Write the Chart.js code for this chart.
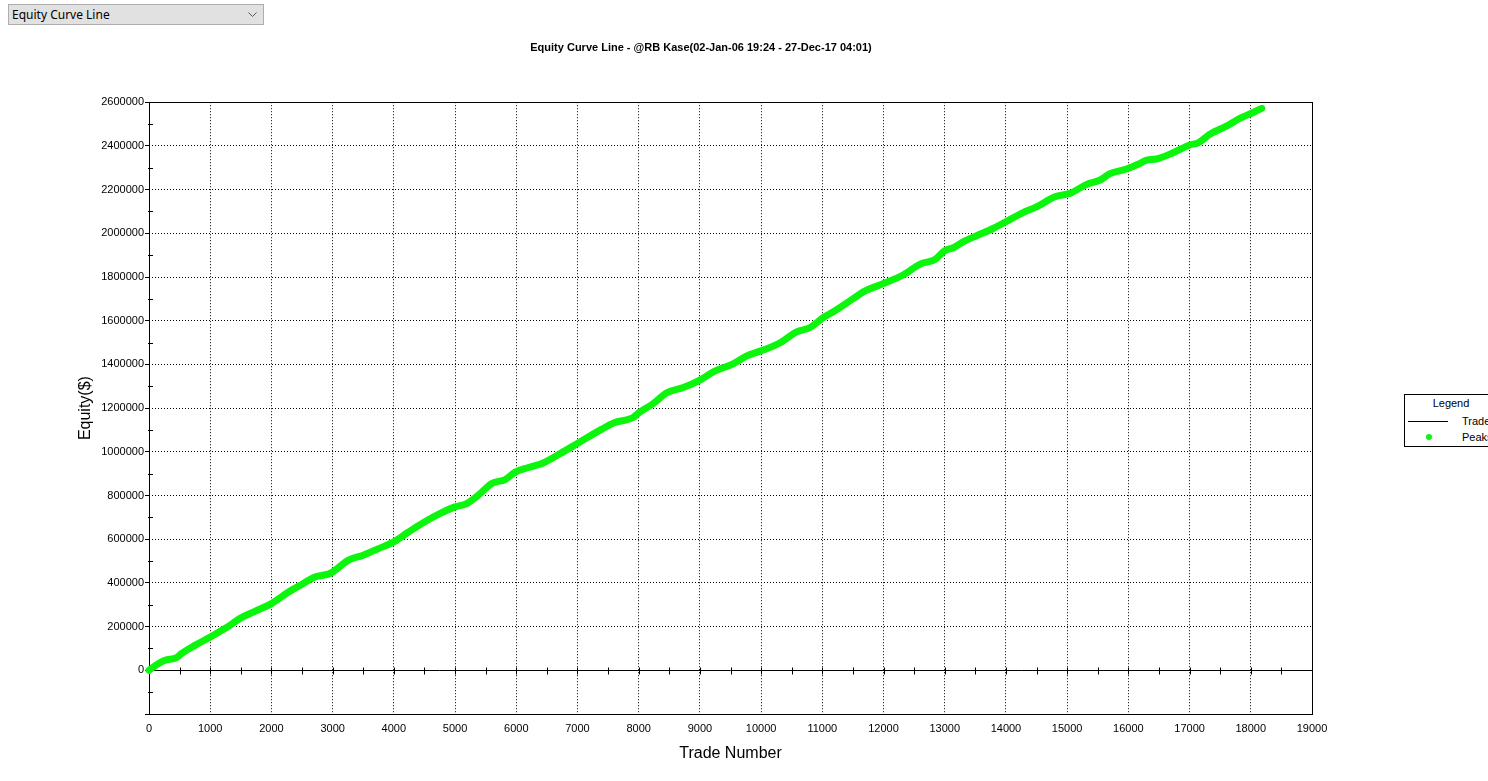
<!DOCTYPE html>
<html>
<head>
<meta charset="utf-8">
<title>Equity Curve Line</title>
<script src="https://cdn.jsdelivr.net/npm/chart.js@4"></script>
<style>
    html, body { margin: 0; padding: 0; background: #fff; overflow: hidden; }
    body { width: 1488px; height: 781px; position: relative; font-family: "Liberation Sans", Arial, sans-serif; }
    #chart { position: absolute; left: 0; top: 0; }
    .picker {
        position: absolute; left: 8px; top: 4px; width: 251px; height: 19px;
        background: #e1e1e1; border: 1px solid #adadad;
        font: 12px "Noto Sans", "Open Sans", sans-serif; color: #000;
        line-height: 19px; padding-left: 3px; box-sizing: content-box;
    }
    .picker svg { position: absolute; right: 6px; top: 7px; }
    .legend {
        position: absolute; left: 1404px; top: 394px; width: 92px; height: 51px;
        border: 1px solid #000; background: #fff; font-size: 11px; color: #000;
    }
    .legend .head { position: absolute; left: 0; width: 92px; top: 2px; text-align: center; }
    .legend .row { position: absolute; left: 0; width: 92px; height: 14px; }
    .legend .row span { position: absolute; left: 57px; top: 0; line-height: 14px; }
</style>
</head>
<body>
<div class="picker">Equity Curve Line
    <svg width="9" height="6" viewBox="0 0 9 6"><polyline points="0.5,0.5 4.5,4.5 8.5,0.5" fill="none" stroke="#555" stroke-width="1"/></svg>
</div>
<canvas id="chart" width="1402" height="781"></canvas>
<div class="legend" id="legend"><div class="head">Legend</div></div>
<script>
// trade number / equity
const trades = [0, 150, 260, 450, 530, 750, 1000, 1240, 1510, 1730, 2000, 2280, 2500, 2710, 2930, 3000,
    3260, 3500, 3750, 4000, 4240, 4500, 4750, 5000, 5190, 5380, 5600, 5820, 5990, 6200, 6450, 6720,
    7000, 7370, 7590, 7910, 8000, 8240, 8460, 8730, 9000, 9220, 9550, 9760, 10000, 10310, 10580, 10800,
    11020, 11180, 11510, 11670, 12000, 12320, 12600, 12840, 13000, 13140, 13300, 13520, 13790, 14000,
    14280, 14500, 14800, 15050, 15320, 15540, 15700, 15970, 16190, 16300, 16460, 16740, 17000, 17140,
    17330, 17610, 17820, 18040, 18180];
const equity = [0, 30000, 46000, 58000, 76000, 114000, 152000, 191000, 241000, 270000, 305000, 358000, 394000, 427000, 440000, 450000,
    504000, 527000, 557000, 588000, 633000, 679000, 717000, 748000, 763000, 801000, 855000, 873000, 908000, 928000, 950000, 992000,
    1038000, 1099000, 1132000, 1157000, 1178000, 1221000, 1270000, 1294000, 1328000, 1366000, 1404000, 1438000, 1462000, 1499000, 1549000, 1569000,
    1615000, 1641000, 1702000, 1732000, 1770000, 1809000, 1859000, 1880000, 1920000, 1934000, 1961000, 1989000, 2022000, 2053000,
    2095000, 2121000, 2167000, 2183000, 2224000, 2244000, 2273000, 2294000, 2320000, 2335000, 2340000, 2370000, 2404000, 2414000,
    2453000, 2492000, 2526000, 2553000, 2572000];

const seriesNames = ["Trade", "Peaks"];
const chartTitle = "Equity Curve Line - @RB Kase(02-Jan-06 19:24 - 27-Dec-17 04:01)";
const xTitle = "Trade Number";
const yTitle = "Equity($)";
const xRange = [0, 19000];
const yRange = [-200000, 2600000];

const points = trades.map((t, i) => ({x: t, y: equity[i]}));
const font = "'Liberation Sans', Arial, sans-serif";
Chart.defaults.font.family = font;
Chart.defaults.color = "#000";

// box round the plot, solid zero line and the small in-between ticks
const framePlugin = {
    id: "frame",
    beforeDatasetsDraw(chart) {
        const {ctx, chartArea: a, scales} = chart;
        const xs = scales.x, ys = scales.y;
        const y0 = Math.round(ys.getPixelForValue(0)) + 0.5;
        ctx.save();
        ctx.strokeStyle = "#000";
        ctx.lineWidth = 1;
        ctx.setLineDash([]);
        ctx.beginPath();
        ctx.moveTo(a.left, y0);
        ctx.lineTo(a.right, y0);
        for (let t = 500; t < xRange[1]; t += 500) {
            const px = Math.round(xs.getPixelForValue(t)) + 0.5;
            ctx.moveTo(px, y0 - 3);
            ctx.lineTo(px, y0 + 4);
        }
        for (let v = yRange[0] + 100000; v < yRange[1]; v += 200000) {
            const py = Math.round(ys.getPixelForValue(v)) + 0.5;
            ctx.moveTo(a.left - 1, py);
            ctx.lineTo(a.left + 4, py);
        }
        ctx.stroke();
        ctx.strokeRect(Math.round(a.left) + 0.5, Math.round(a.top) + 0.5,
            Math.round(a.right - a.left), Math.round(a.bottom - a.top));
        ctx.restore();
    }
};

const chart = new Chart(document.getElementById("chart"), {
    type: "line",
    data: {
        datasets: [{
            label: seriesNames[1],
            data: points,
            borderColor: "#0cf50c",
            backgroundColor: "#0cf50c",
            borderWidth: 7,
            borderCapStyle: "round",
            borderJoinStyle: "round",
            pointRadius: 0,
            cubicInterpolationMode: "monotone",
            fill: false,
            clip: false,
            order: 1,
        }, {
            label: seriesNames[0],
            data: points,
            borderColor: "#000",
            borderWidth: 1,
            pointRadius: 0,
            cubicInterpolationMode: "monotone",
            fill: false,
            order: 2,
        }]
    },
    options: {
        responsive: false,
        animation: false,
        devicePixelRatio: 1,
        layout: {padding: 0},
        plugins: {
            legend: {display: false},
            tooltip: {enabled: false},
            title: {
                display: true,
                text: chartTitle,
                color: "#000",
                font: {size: 11, weight: "bold", family: font},
                padding: {top: 41, bottom: 48},
            },
        },
        scales: {
            x: {
                type: "linear",
                min: xRange[0],
                max: xRange[1],
                ticks: {stepSize: 1000, autoSkip: false, maxRotation: 0, padding: 8,
                    font: {size: 11}, callback: v => String(v)},
                grid: {color: "#000", lineWidth: 1, drawTicks: false},
                border: {display: false, dash: [1, 2]},
                title: {display: true, text: xTitle, font: {size: 16}, padding: {top: 4, bottom: 18}},
                afterFit(s) { s.height = 67; },
            },
            y: {
                min: yRange[0],
                max: yRange[1],
                ticks: {stepSize: 200000, padding: 1, font: {size: 11},
                    callback: v => v < 0 ? "" : String(v)},
                grid: {color: "#000", lineWidth: 1, tickLength: 4, tickColor: "#000", tickBorderDash: [4, 0]},
                border: {display: false, dash: [1, 2]},
                title: {display: true, text: yTitle, font: {size: 16}, padding: {top: 76, bottom: 0}},
                afterFit(s) { s.width = 149; },
            },
            yR: {
                position: "right",
                display: true,
                ticks: {display: false},
                grid: {display: false, drawTicks: false},
                border: {display: false},
                afterFit(s) { s.width = 90; },
            },
        },
    },
    plugins: [framePlugin],
});

// legend box built from the dataset labels
const legend = document.getElementById("legend");
seriesNames.forEach((name, i) => {
    const row = document.createElement("div");
    row.className = "row";
    row.style.top = (19 + i * 16) + "px";
    const mark = document.createElement("div");
    mark.style.position = "absolute";
    if (i === 0) {
        Object.assign(mark.style, {left: "3px", top: "7px", width: "40px", height: "1px", background: "#000"});
    } else {
        Object.assign(mark.style, {left: "21px", top: "4px", width: "6px", height: "6px",
            borderRadius: "50%", background: "#0cf50c"});
    }
    const label = document.createElement("span");
    label.textContent = name;
    row.appendChild(mark);
    row.appendChild(label);
    legend.appendChild(row);
});
</script>
</body>
</html>
